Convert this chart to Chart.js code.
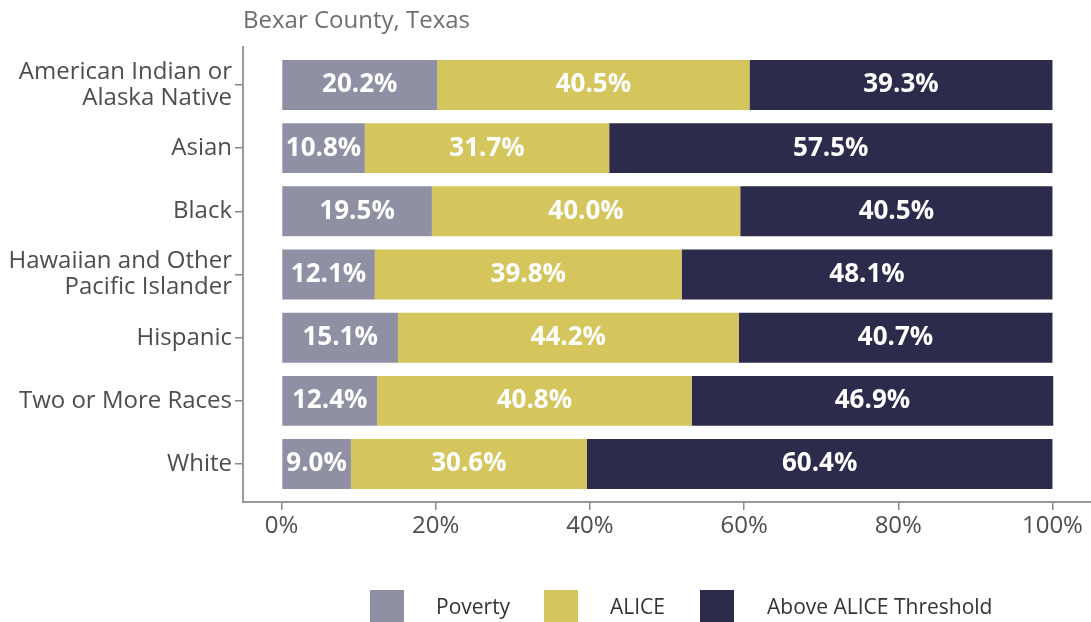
<!DOCTYPE html>
<html>
<head>
<meta charset="utf-8">
<script src="https://cdn.jsdelivr.net/npm/chart.js@4.4.1/dist/chart.umd.min.js"></script>
<style>
  html, body { margin: 0; padding: 0; background: #fff; }
  #wrap { position: relative; width: 1091px; height: 622px; overflow: hidden; font-family: "Open Sans", sans-serif; }
  #subtitle { position: absolute; left: 243px; top: 2px; font-size: 24px; color: #6e6e6e; }
  .leg { position: absolute; top: 590px; }
  .leg span.box { display: inline-block; width: 34px; height: 34px; }
  .leg span.txt { position: absolute; top: 2px; font-size: 21px; color: #333; white-space: nowrap; }
</style>
</head>
<body>
<div id="wrap">
  <canvas id="chart" width="1091" height="622"></canvas>
  <div id="subtitle">Bexar County, Texas</div>
  <div id="legend"></div>
</div>
<script>
/* ── Data ── */
const groups = [
  ['American Indian or', 'Alaska Native'],
  'Asian',
  'Black',
  ['Hawaiian and Other', 'Pacific Islander'],
  'Hispanic',
  'Two or More Races',
  'White',
];
const poverty = [20.2, 10.8, 19.5, 12.1, 15.1, 12.4, 9.0];
const alice = [40.5, 31.7, 40.0, 39.8, 44.2, 40.8, 30.6];
const above = [39.3, 57.5, 40.5, 48.1, 40.7, 46.9, 60.4];
const xTicks = [0, 20, 40, 60, 80, 100];

const seriesNames = ['Poverty', 'ALICE', 'Above ALICE Threshold'];
const seriesColors = ['#8f90a3', '#d5c55d', '#2d2b4b'];

/* ── Helpers ── */
function toPoints(vals) {
  return vals.map((v, i) => ({ x: v, y: i + 1 }));
}

const labelPlugin = {
  id: 'barLabels',
  afterDatasetsDraw(chart) {
    const ctx = chart.ctx;
    ctx.save();
    ctx.fillStyle = '#ffffff';
    ctx.font = 'bold 26px "Open Sans", sans-serif';
    ctx.textAlign = 'center';
    ctx.textBaseline = 'middle';
    chart.data.datasets.forEach((ds, di) => {
      const meta = chart.getDatasetMeta(di);
      meta.data.forEach((bar, i) => {
        const cx = (bar.x + bar.base) / 2;
        ctx.fillText(ds.data[i].x.toFixed(1) + '%', cx, bar.y);
      });
    });
    ctx.restore();
  },
};

/* ── Chart ── */
Chart.defaults.font.family = "'Open Sans', sans-serif";

new Chart(document.getElementById('chart'), {
  type: 'bar',
  data: {
    datasets: [poverty, alice, above].map((vals, i) => ({
      label: seriesNames[i],
      data: toPoints(vals),
      backgroundColor: seriesColors[i],
      borderWidth: 0,
      categoryPercentage: 0.79,
      barPercentage: 1,
    })),
  },
  options: {
    indexAxis: 'y',
    responsive: false,
    animation: false,
    layout: { padding: { top: 47, bottom: 80, right: 0, left: 0 } },
    plugins: {
      legend: { display: false },
      tooltip: { enabled: false },
    },
    scales: {
      x: {
        type: 'linear',
        stacked: true,
        min: -5,
        max: 105,
        afterBuildTicks: (scale) => { scale.ticks = xTicks.map(v => ({ value: v })); },
        afterFit: (scale) => { scale.height = 40; },
        ticks: {
          callback: (v) => v + '%',
          color: '#4d4d4d',
          font: { size: 24 },
          padding: 2,
          maxRotation: 0,
        },
        grid: { drawOnChartArea: false, tickLength: 8, color: '#888', lineWidth: 1.5 },
        border: { color: '#999', width: 2 },
      },
      y: {
        type: 'linear',
        stacked: true,
        reverse: true,
        offset: false,
        min: 0.4,
        max: 7.6,
        afterBuildTicks: (scale) => { scale.ticks = groups.map((g, i) => ({ value: i + 1 })); },
        afterFit: (scale) => { scale.width = 243; },
        ticks: {
          callback: (v) => groups[v - 1],
          color: '#4d4d4d',
          font: { size: 24, lineHeight: 1.09 },
          padding: 3,
        },
        grid: { offset: false, drawOnChartArea: false, tickLength: 8, color: '#888', lineWidth: 1.5 },
        border: { color: '#999', width: 2 },
      },
    },
  },
  plugins: [labelPlugin],
});

/* ── Legend ── */
const legendPos = [
  { box: 370, txt: 436 },
  { box: 544, txt: 610 },
  { box: 700, txt: 767 },
];
const legendEl = document.getElementById('legend');
seriesNames.forEach((name, i) => {
  const item = document.createElement('div');
  item.className = 'leg';
  item.style.left = legendPos[i].box + 'px';
  item.innerHTML = `<span class="box" style="background:${seriesColors[i]}"></span>` +
    `<span class="txt" style="left:${legendPos[i].txt - legendPos[i].box}px">${name}</span>`;
  legendEl.appendChild(item);
});
</script>
</body>
</html>
